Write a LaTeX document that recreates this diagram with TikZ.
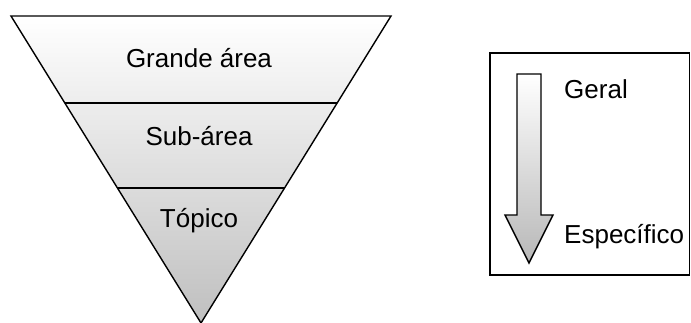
\documentclass[tikz,border=0pt]{standalone}
\usepackage{fontspec}
\setmainfont{Liberation Sans}
\begin{document}
\begin{tikzpicture}[x=1pt,y=-1pt,
  outline/.style={draw=black,line width=1.4pt,line join=miter},
  label/.style={inner sep=0pt,font=\fontsize{26}{31}\selectfont},
]
\useasboundingbox (0,0) rectangle (691,322);

% inverted triangle with vertical grey gradient
\coordinate (tl) at (11,16);
\coordinate (tr) at (391,16);
\coordinate (apex) at (201,323);
\shade[top color=white,bottom color=black!25] (tl) -- (tr) -- (apex) -- cycle;
\begin{scope}
  \clip (tl) -- (tr) -- (apex) -- cycle;
  \draw[line width=1.4pt] (0,103) -- (400,103);
  \draw[line width=1.4pt] (0,188) -- (400,188);
\end{scope}
\draw[outline] (tl) -- (tr) -- (apex) -- cycle;

\node[label,anchor=base] (grande) at (199,67) {Grande área};
\node[label,anchor=base] (sub) at (199,145) {Sub-área};
\node[label,anchor=base] (topico) at (199,227) {Tópico};

% legend box with general-to-specific arrow
\draw[outline] (490,53) rectangle (689.5,275);
\shade[top color=white,bottom color=black!28,outline]
  (517,74) -- (541,74) -- (541,215) -- (553,215) -- (529,263)
  -- (505,215) -- (517,215) -- cycle;

\node[label,anchor=base west] (geral) at (564,98) {Geral};
\node[label,anchor=base west] (especifico) at (564,243) {Específico};
\end{tikzpicture}
\end{document}
